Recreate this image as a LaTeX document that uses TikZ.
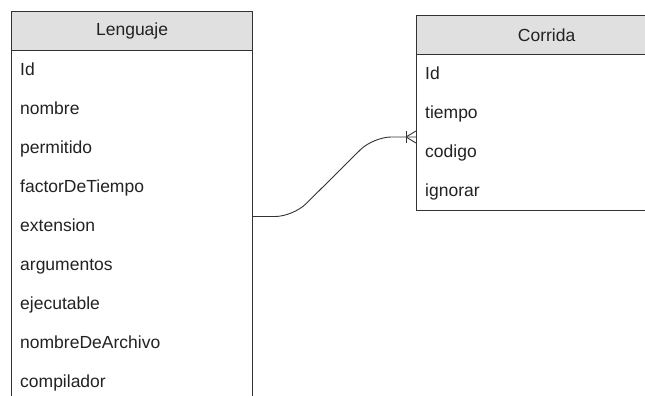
\documentclass[tikz,border=0pt]{standalone}
\usepackage{fontspec}
\setmainfont{Liberation Sans}
\usetikzlibrary{calc}
\definecolor{linecol}{HTML}{333333}
\definecolor{headfill}{HTML}{E0E0E0}
\definecolor{textcol}{HTML}{222222}
\begin{document}
\begin{tikzpicture}[x=1pt,y=-1pt,font=\fontsize{17.5}{21}\selectfont]
\useasboundingbox (0,0) rectangle (645,396);
\clip (0,0) rectangle (645,396);
\tikzset{
  border/.style={draw=linecol,line width=1.2pt},
  tablebody/.style={border,fill=white,anchor=north west,inner sep=0pt},
  header/.style={border,fill=headfill,anchor=north west,inner sep=0pt,
    minimum height=39pt,text=textcol},
  field/.style={anchor=base west,inner sep=0pt,text=textcol},
  conn/.style={draw=linecol,line width=0.9pt},
}
% Lenguaje table
\node[tablebody,minimum width=241pt,minimum height=420pt] (lengbody) at (11,11) {};
\node[header,minimum width=241pt] (leng) at (11,11) {Lenguaje};
\foreach \name/\txt [count=\i] in {lid/Id,lnom/nombre,lper/permitido,
    lfac/factorDeTiempo,lext/extension,larg/argumentos,leje/ejecutable,
    lnar/nombreDeArchivo,lcom/compilador}
  \node[field] (\name) at (20,{50+39*(\i-1)+25.5}) {\txt};
% Corrida table
\node[tablebody,minimum width=260pt,minimum height=195pt] (corrbody) at (416,15) {};
\node[header,minimum width=260pt] (corr) at (416,15) {Corrida};
\foreach \name/\txt [count=\i] in {cid/Id,ctie/tiempo,ccod/codigo,cign/ignorar}
  \node[field] (\name) at (425,{54+39*(\i-1)+25.5}) {\txt};
% relationship Lenguaje 1 -- many Corrida
\coordinate (src) at (leng.east |- 0,216.5);
\coordinate (dst) at (corr.west |- 0,137);
\draw[conn,rounded corners=18pt] (src) -- ++(40,0) -- ++(80,-79.5) -- (dst);
\draw[conn] ($(dst)+(-10,-6)$) -- ($(dst)+(-10,6)$);
\draw[conn] ($(dst)+(-10,0)$) -- ($(dst)+(0,-6)$);
\draw[conn] ($(dst)+(-10,0)$) -- ($(dst)+(0,6)$);
\end{tikzpicture}
\end{document}
